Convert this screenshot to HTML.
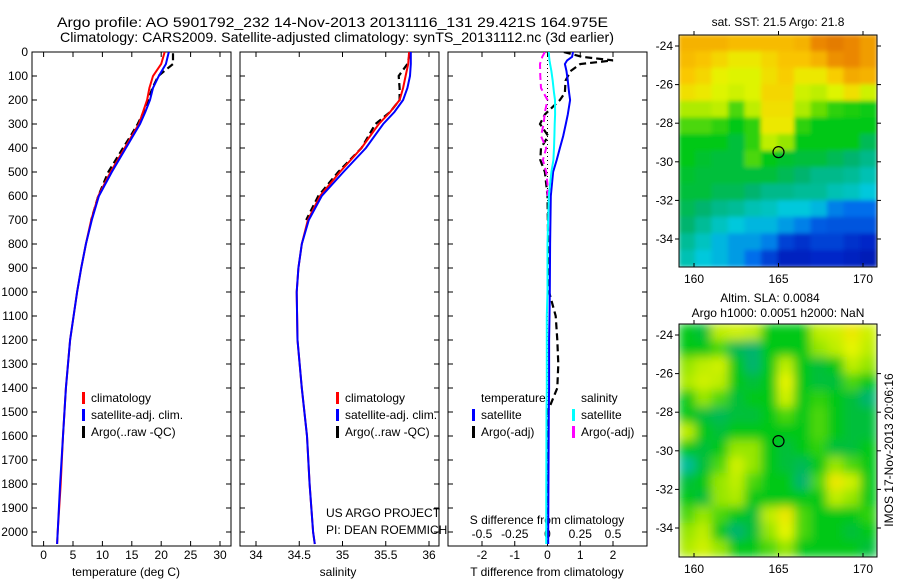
<!DOCTYPE html>
<html><head><meta charset="utf-8">
<style>
body{margin:0;background:#fff;}
svg{display:block;font-family:"Liberation Sans",sans-serif;}
text{fill:#000;}
</style></head>
<body>
<svg id="chart" width="900" height="580" viewBox="0 0 900 580">
<defs>
<clipPath id="c1"><rect x="32" y="52" width="199" height="494"/></clipPath>
<clipPath id="c2"><rect x="240" y="52" width="199" height="494"/></clipPath>
<clipPath id="c3"><rect x="448" y="52" width="199" height="494"/></clipPath>
<clipPath id="m1"><rect x="679" y="35" width="198" height="232"/></clipPath>
<clipPath id="m2"><rect x="679" y="324" width="198" height="233"/></clipPath>
<filter id="bl" x="0" y="0" width="1" height="1"><feGaussianBlur stdDeviation="5"/></filter>
<filter id="bl1" x="0" y="0" width="1" height="1"><feGaussianBlur stdDeviation="2"/></filter>
</defs>
<text x="57" y="27" font-size="14" textLength="551" lengthAdjust="spacingAndGlyphs">Argo profile: AO 5901792_232 14-Nov-2013 20131116_131 29.421S 164.975E</text>
<text x="60" y="42" font-size="14" textLength="554" lengthAdjust="spacingAndGlyphs">Climatology: CARS2009. Satellite-adjusted climatology: synTS_20131112.nc (3d earlier)</text>
</svg>
<script>
const depths=[0,50,100,150,200,250,300,400,500,600,700,800,900,1000,1200,1400,1600,1800,2000,2050];
const climT=[20.6,20.0,18.6,18.0,17.6,16.9,16.2,13.8,11.4,9.3,8.1,7.2,6.4,5.7,4.5,3.8,3.3,2.9,2.4,2.3];
const satT=[21.3,20.8,19.6,18.6,18.1,17.3,16.4,14.0,11.6,9.4,8.2,7.2,6.4,5.7,4.5,3.8,3.3,2.8,2.4,2.3];
const argoDepths=[5,50,100,150,200,250,300,350,400,500,600,700];
const argoT=[22.0,22.0,19.5,18.5,17.8,17.0,16.0,14.8,13.5,11.0,9.3,8.1];
const climS=[35.77,35.76,35.73,35.70,35.66,35.55,35.42,35.22,34.97,34.74,34.60,34.53,34.49,34.47,34.48,34.53,34.59,34.62,34.66,34.68];
const satS=[35.79,35.79,35.78,35.75,35.70,35.60,35.47,35.27,35.01,34.76,34.61,34.53,34.49,34.47,34.48,34.53,34.59,34.62,34.66,34.68];
const argoS=[35.78,35.75,35.65,35.66,35.66,35.55,35.38,35.30,35.22,34.95,34.72,34.58];
const diffDepths=[0,20,35,50,80,120,170,200,260,300,350,400,450,500,600,800,1000,1100,1200,1300,1400,1500,2000,2050];
const satTdiff=[0.78,0.75,0.6,0.53,0.58,0.62,0.66,0.69,0.62,0.56,0.48,0.38,0.28,0.17,0.1,0.08,0.07,0.06,0.05,0.05,0.05,0.04,0.02,0.02];
const argoTdiff=[0.5,1.05,2.0,1.0,0.7,0.55,0.53,0.38,-0.08,-0.23,0.02,-0.2,-0.22,-0.08,0.0,0.02,0.05,0.25,0.3,0.33,0.3,0.0,0.0,0.0];
const satSdiff=[0.01,0.012,0.015,0.02,0.03,0.04,0.05,0.057,0.058,0.055,0.053,0.05,0.045,0.03,0.01,0.0,0.0,-0.005,-0.005,-0.005,-0.005,-0.008,-0.01,-0.01];
const argoSdiffDepths=[0,20,50,100,150,200,250,300,350,400,450,500,550,600];
const argoSdiff=[-0.02,-0.04,-0.057,-0.055,-0.05,0.0,-0.02,-0.03,-0.05,-0.01,-0.035,-0.01,0.0,0.0];
const depthTicks=[0,100,200,300,400,500,600,700,800,900,1000,1100,1200,1300,1400,1500,1600,1700,1800,1900,2000];
const tTicks=[0,5,10,15,20,25,30];
const sTicks=[34,34.5,35,35.5,36];
const sTickLabels=["34","34.5","35","35.5","36"];
const tdTicks=[-2,-1,0,1,2];
const sdTicks=[-0.5,-0.25,0,0.25,0.5];
const sdTickLabels=["-0.5","-0.25","0","0.25","0.5"];
const lonTicks=[160,165,170];
const latTicks=[-24,-26,-28,-30,-32,-34];
const sstGrid=[
[.8,.8,.8,.78,.78,.78,.78,.8,.9,.92,.9,.85],
[.78,.76,.72,.68,.68,.72,.76,.76,.8,.88,.9,.85],
[.75,.72,.66,.64,.64,.7,.74,.68,.68,.74,.82,.8],
[.7,.68,.64,.62,.64,.72,.72,.62,.6,.64,.7,.62],
[.58,.58,.6,.5,.6,.7,.7,.58,.52,.48,.47,.46],
[.5,.5,.48,.45,.48,.68,.68,.48,.45,.45,.45,.45],
[.45,.45,.45,.42,.48,.6,.55,.45,.45,.45,.45,.4],
[.45,.43,.42,.42,.5,.45,.43,.42,.42,.4,.38,.36],
[.43,.42,.42,.42,.42,.42,.4,.38,.36,.36,.35,.33],
[.42,.42,.4,.4,.38,.36,.36,.35,.35,.33,.32,.3],
[.4,.38,.36,.35,.33,.32,.3,.3,.28,.22,.2,.2],
[.38,.35,.32,.3,.28,.28,.25,.22,.18,.17,.17,.17],
[.35,.32,.28,.25,.25,.22,.15,.13,.15,.15,.13,.12],
[.33,.3,.28,.25,.2,.15,.1,.1,.12,.12,.1,.08]];
const slaGrid=[
[.45,.42,.6,.62,.6,.45,.45,.45,.6,.62,.68,.62],
[.45,.45,.5,.4,.38,.45,.45,.45,.55,.6,.65,.6],
[.55,.6,.62,.45,.38,.45,.6,.45,.42,.45,.6,.55],
[.58,.62,.6,.45,.42,.45,.65,.45,.42,.42,.5,.45],
[.45,.55,.5,.42,.45,.45,.62,.45,.48,.45,.42,.38],
[.45,.42,.4,.42,.42,.45,.5,.45,.5,.45,.42,.42],
[.6,.45,.42,.45,.45,.45,.45,.45,.5,.45,.42,.42],
[.45,.42,.45,.55,.55,.45,.42,.45,.48,.42,.42,.45],
[.35,.42,.5,.62,.55,.45,.42,.4,.45,.55,.5,.45],
[.42,.45,.55,.6,.5,.45,.45,.38,.5,.68,.62,.45],
[.45,.42,.55,.58,.45,.45,.45,.45,.45,.6,.55,.45],
[.5,.55,.5,.45,.42,.6,.68,.5,.45,.45,.45,.48],
[.55,.6,.45,.38,.42,.55,.65,.5,.45,.45,.42,.45],
[.58,.62,.55,.45,.45,.5,.55,.45,.45,.45,.45,.42]];
const floatLon=165, floatLat=-29.5;

const NS="http://www.w3.org/2000/svg";
const svg=document.getElementById('chart');
function mk(tag,attrs,parent){const e=document.createElementNS(NS,tag);for(const k in attrs)e.setAttribute(k,attrs[k]);(parent||svg).appendChild(e);return e;}
const yD=d=>52+d*0.24;
const xT=v=>43.6+v*5.88;
const xS=v=>256+(v-34)*86.5;
const xTD=v=>547.5+v*32.75;
const xSD=v=>547.5+v*131;
const xLon=v=>694+(v-160)*16.9;
const yLat1=v=>46+(-24-v)*19.3;
const yLat2=v=>335+(-24-v)*19.3;

function frame(x,y,w,h,name){const r=mk('rect',{x:x,y:y,width:w,height:h,fill:'none',stroke:'#000','stroke-width':1});}
function line(xs,ys,col,w,dash,clip,name){
  const g=mk('g',{'clip-path':'url(#'+clip+')'});
  const pts=xs.map((x,i)=>x.toFixed(1)+','+ys[i].toFixed(1)).join(' ');
  const p=mk('polyline',{points:pts,fill:'none',stroke:col,'stroke-width':w},g);
  if(dash)p.setAttribute('stroke-dasharray',dash);
  
  
}
function txt(x,y,s,anchor,size,name){const t=mk('text',{x:x,y:y,'font-size':size||12,'text-anchor':anchor||'start'});t.textContent=s;return t;}

depthTicks.forEach(d=>{
  txt(28,yD(d)+4,String(d),'end',12,'depth-tick-label');
  [32,240,448].forEach(px=>{mk('line',{x1:px,y1:yD(d),x2:px+5,y2:yD(d),stroke:'#000'});mk('line',{x1:px+199,y1:yD(d),x2:px+194,y2:yD(d),stroke:'#000'});});
});
frame(32,52,199,494,'temperature-panel');
tTicks.forEach(v=>{const x=xT(v);mk('line',{x1:x,y1:546,x2:x,y2:541,stroke:'#000'});mk('line',{x1:x,y1:52,x2:x,y2:57,stroke:'#000'});txt(x,559,String(v),'middle',12,'temperature-tick-label');});
txt(126,576,'temperature (deg C)','middle',12,'temperature-axis-title');
line(argoT.map(xT),argoDepths.map(yD),'#000',2.2,'7,4','c1','argo-temperature-line');
line(climT.map(xT),depths.map(yD),'#f00',2,null,'c1','climatology-temperature-line');
line(satT.map(xT),depths.map(yD),'#00f',2,null,'c1','satellite-temperature-line');
frame(240,52,199,494,'salinity-panel');
sTicks.forEach((v,i)=>{const x=xS(v);mk('line',{x1:x,y1:546,x2:x,y2:541,stroke:'#000'});mk('line',{x1:x,y1:52,x2:x,y2:57,stroke:'#000'});txt(x,559,sTickLabels[i],'middle',12,'salinity-tick-label');});
txt(338,576,'salinity','middle',12,'salinity-axis-title');
line(argoS.map(xS),argoDepths.map(yD),'#000',2.2,'7,4','c2','argo-salinity-line');
line(climS.map(xS),depths.map(yD),'#f00',2,null,'c2','climatology-salinity-line');
line(satS.map(xS),depths.map(yD),'#00f',2,null,'c2','satellite-salinity-line');
frame(448,52,199,494,'difference-panel');
tdTicks.forEach(v=>{const x=xTD(v);mk('line',{x1:x,y1:546,x2:x,y2:541,stroke:'#000'});txt(x,559,String(v),'middle',12,'t-diff-tick-label');});
sdTicks.forEach((v,i)=>{const x=xSD(v);mk('line',{x1:x,y1:52,x2:x,y2:57,stroke:'#000'});txt(x,538,sdTickLabels[i],'middle',12,'s-diff-tick-label');});
txt(547,576,'T difference from climatology','middle',12,'t-diff-axis-title');
txt(547,524,'S difference from climatology','middle',12,'s-diff-axis-title');
mk('line',{x1:547.5,y1:52,x2:547.5,y2:546,stroke:'#000','stroke-dasharray':'1,3'});
line(argoTdiff.map(xTD),diffDepths.map(yD),'#000',2.2,'7,4','c3','argo-t-diff-line');
line(argoSdiff.map(xSD),argoSdiffDepths.map(yD),'#f0f',2,'7,4','c3','argo-s-diff-line');
line(satTdiff.map(xTD),diffDepths.map(yD),'#00f',2,null,'c3','satellite-t-diff-line');
line(satSdiff.map(xSD),diffDepths.map(yD),'#0ff',2,null,'c3','satellite-s-diff-line');
function legend(x,y,col,label,name){mk('rect',{x:x,y:y-10,width:3,height:12,fill:col});txt(x+9,y,label,'start',12,name);}
legend(82,402,'#f00','climatology','legend-climatology');
legend(82,419,'#00f','satellite-adj. clim.','legend-satellite');
legend(82,436,'#000','Argo(..raw -QC)','legend-argo');
legend(336,402,'#f00','climatology','legend-climatology-2');
legend(336,419,'#00f','satellite-adj. clim.','legend-satellite-2');
legend(336,436,'#000','Argo(..raw -QC)','legend-argo-2');
txt(481,402,'temperature','start',12,'legend-temperature-header');
txt(581,402,'salinity','start',12,'legend-salinity-header');
legend(472,419,'#00f','satellite','legend-t-satellite');
legend(472,436,'#000','Argo(-adj)','legend-t-argo');
legend(572,419,'#0ff','satellite','legend-s-satellite');
legend(572,436,'#f0f','Argo(-adj)','legend-s-argo');
txt(326,517,'US ARGO PROJECT','start',12,'project-label');
txt(326,534,'PI: DEAN ROEMMICH','start',12,'pi-label');

const stops=[[0,[0,0,150]],[.12,[0,40,200]],[.2,[0,110,235]],[.3,[0,200,220]],[.38,[0,180,110]],[.45,[0,200,20]],[.55,[150,230,0]],[.65,[230,245,0]],[.75,[250,200,0]],[.9,[235,135,0]],[1,[200,80,0]]];
function cmap(v){for(let i=1;i<stops.length;i++){if(v<=stops[i][0]){const a=stops[i-1],b=stops[i];const t=(v-a[0])/(b[0]-a[0]);const c=a[1].map((q,k)=>Math.round(q+(b[1][k]-q)*t));return 'rgb('+c.join(',')+')';}}return 'rgb(200,80,0)';}
function map(grid,x0,y0,w,h,clip,filt,yLat,name){
  const g=mk('g',{'clip-path':'url(#'+clip+')'});
  
  
  const inner=mk('g',{filter:'url(#'+filt+')'},g);
  const rows=grid.length,cols=grid[0].length,cw=w/cols,ch=h/rows;
  mk('rect',{x:x0,y:y0,width:w,height:h,fill:cmap(0.45)},inner);
  grid.forEach((r,i)=>r.forEach((v,j)=>{const c=mk('rect',{x:x0+j*cw-0.5,y:y0+i*ch-0.5,width:cw+1,height:ch+1,fill:cmap(v)},inner);}));
  frame(x0,y0,w,h,name+'-frame');
  lonTicks.forEach(v=>{const x=xLon(v);mk('line',{x1:x,y1:y0+h,x2:x,y2:y0+h-4,stroke:'#000'});mk('line',{x1:x,y1:y0,x2:x,y2:y0-4,stroke:'#000'});txt(x,y0+h+16,String(v),'middle',12,'lon-tick-label');});
  latTicks.forEach(v=>{const y=yLat(v);mk('line',{x1:x0,y1:y,x2:x0-4,y2:y,stroke:'#000'});mk('line',{x1:x0+w,y1:y,x2:x0+w+4,y2:y,stroke:'#000'});txt(x0-6,y+4,String(v),'end',12,'lat-tick-label');});
  const c=mk('circle',{cx:xLon(floatLon),cy:yLat(floatLat),r:5.5,fill:'none',stroke:'#000','stroke-width':1.2});
  
}
map(sstGrid,679,35,198,232,'m1','bl1',yLat1,'sst-map');
txt(778,26,'sat. SST: 21.5 Argo: 21.8','middle',12,'sst-map-title');
map(slaGrid,679,324,198,233,'m2','bl',yLat2,'sla-map');
txt(770,302,'Altim. SLA: 0.0084','middle',12,'sla-map-title-1');
txt(778,317,'Argo h1000: 0.0051 h2000: NaN','middle',12,'sla-map-title-2');
const ts=txt(0,0,'IMOS 17-Nov-2013 20:06:16','middle',12,'timestamp-label');
ts.setAttribute('transform','translate(893,450) rotate(-90)');
</script>
</body></html>
